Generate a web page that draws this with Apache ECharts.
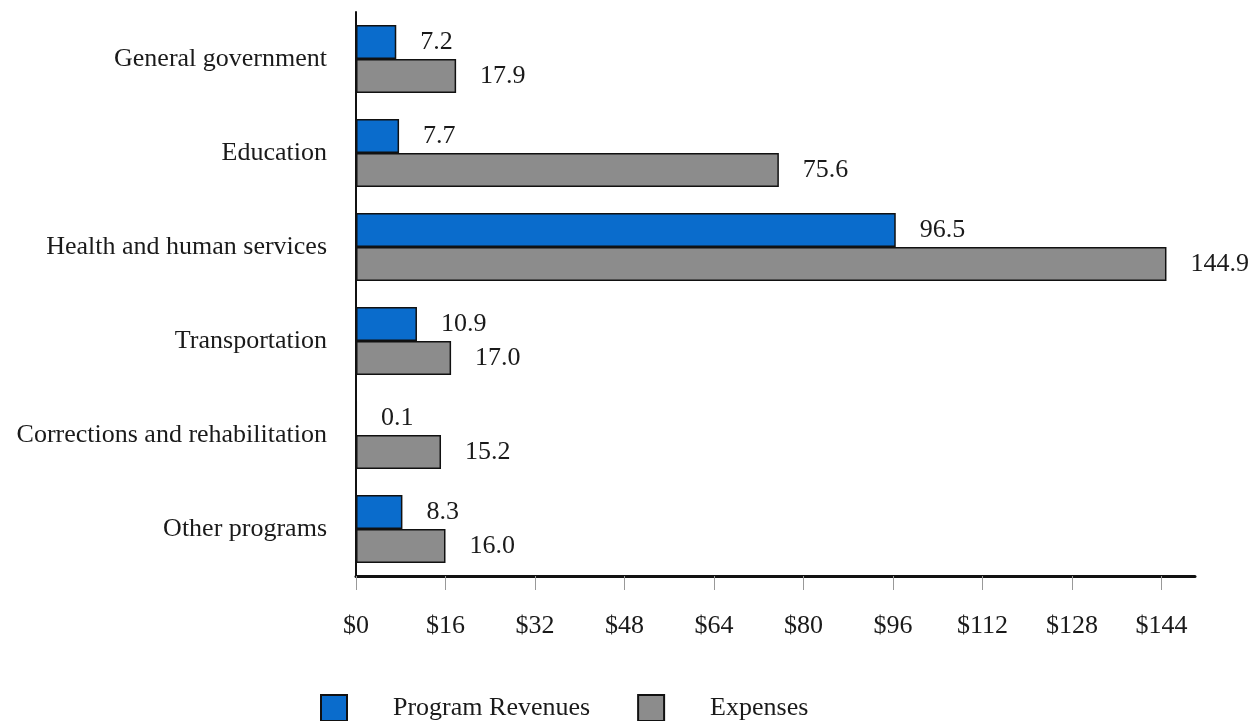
<!DOCTYPE html>
<html>
<head>
<meta charset="utf-8">
<script src="https://cdn.jsdelivr.net/npm/echarts@6/dist/echarts.min.js"></script>
<style>html,body{margin:0;padding:0;background:#fff;}#c{width:1258px;height:721px;}</style>
</head>
<body>
<div id="c"></div>
<script>
var categories = ['General government', 'Education', 'Health and human services', 'Transportation', 'Corrections and rehabilitation', 'Other programs'];
var programRevenues = [7.2, 7.7, 96.5, 10.9, 0.1, 8.3];
var expenses = [17.9, 75.6, 144.9, 17.0, 15.2, 16.0];
var tickValues = [0, 16, 32, 48, 64, 80, 96, 112, 128, 144];

var FONT = "'Liberation Serif', 'Times New Roman', serif";
var chart = echarts.init(document.getElementById('c'));
var labelCfg = {
  show: true, position: 'right', distance: 24,
  fontFamily: FONT, fontSize: 26, color: '#1a1a1a',
  formatter: function (p) { return p.value.toFixed(1); }
};
chart.setOption({
  backgroundColor: '#fff',
  animation: false,
  grid: { left: 356, top: 12, right: 63, bottom: 145, containLabel: false },
  legend: {
    left: 315, top: 689,
    itemWidth: 26, itemHeight: 26, itemGap: 47,
    icon: 'rect',
    textStyle: { fontFamily: FONT, fontSize: 26, color: '#1a1a1a', padding: [0, 0, 0, 41] },
    data: ['Program Revenues', 'Expenses']
  },
  xAxis: {
    type: 'value', min: 0, max: 150, interval: 16,
    axisLine: { show: true, lineStyle: { color: '#111', width: 3 } },
    axisTick: { show: true, length: 14, lineStyle: { color: '#999', width: 1 }, customValues: tickValues },
    axisLabel: { margin: 37, fontFamily: FONT, fontSize: 26, color: '#1a1a1a', customValues: tickValues,
      formatter: function (v) { return '$' + v; } },
    splitLine: { show: false }
  },
  yAxis: {
    type: 'category', data: categories, inverse: true,
    axisLine: { show: true, lineStyle: { color: '#111', width: 2 } },
    axisTick: { show: false },
    axisLabel: { margin: 29, fontFamily: FONT, fontSize: 26, color: '#1a1a1a' }
  },
  series: [
    { name: 'Program Revenues', type: 'bar', data: programRevenues, barWidth: 34, barGap: '0%',
      itemStyle: { color: '#0a6ccc', borderColor: '#111', borderWidth: 1.5 }, label: labelCfg },
    { name: 'Expenses', type: 'bar', data: expenses, barWidth: 34, barGap: '0%',
      itemStyle: { color: '#8c8c8c', borderColor: '#111', borderWidth: 1.5 }, label: labelCfg }
  ]
});
</script>
</body>
</html>
